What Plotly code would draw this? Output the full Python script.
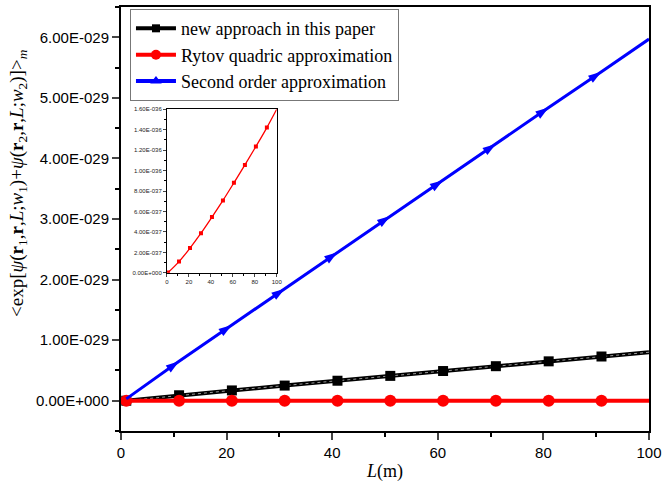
import plotly.graph_objects as go

# ---- data ----
L_pts = [1, 11, 21, 31, 41, 51, 61, 71, 81, 91]
L_end = 100
new_approach = [0.00e-29, 0.09e-29, 0.17e-29, 0.25e-29, 0.33e-29, 0.41e-29, 0.49e-29, 0.57e-29, 0.65e-29, 0.73e-29]
new_approach_end = 0.80e-29
rytov = [0, 0, 0, 0, 0, 0, 0, 0, 0, 0]
rytov_end = 0
second_order = [0.03e-29, 0.65e-29, 1.25e-29, 1.85e-29, 2.45e-29, 3.05e-29, 3.64e-29, 4.24e-29, 4.84e-29, 5.43e-29]
second_order_end = 5.97e-29

inset_rytov = [0.03e-37, 1.1e-37, 2.42e-37, 3.88e-37, 5.45e-37, 7.08e-37, 8.8e-37, 10.55e-37, 12.35e-37, 14.2e-37]
inset_rytov_end = 16.0e-37

y_tickvals = [0, 1e-29, 2e-29, 3e-29, 4e-29, 5e-29, 6e-29]
y_ticktext = ["0.00E+000", "1.00E-029", "2.00E-029", "3.00E-029", "4.00E-029", "5.00E-029", "6.00E-029"]
inset_tickvals = [0, 2e-37, 4e-37, 6e-37, 8e-37, 10e-37, 12e-37, 14e-37, 16e-37]
inset_ticktext = ["0.00E+000", "2.00E-037", "4.00E-037", "6.00E-037", "8.00E-037",
                  "1.00E-036", "1.20E-036", "1.40E-036", "1.60E-036"]

series_names = ["new approach in this paper", "Rytov quadric approximation", "Second order approximation"]

L_line = L_pts + [L_end]

fig = go.Figure()

# black: new approach
fig.add_trace(go.Scatter(x=L_line, y=new_approach + [new_approach_end], mode="lines",
                         line=dict(color="black", width=4), showlegend=False, hoverinfo="skip"))
fig.add_trace(go.Scatter(x=L_line, y=new_approach + [new_approach_end], mode="lines",
                         line=dict(color="#9a9a9a", width=1, dash="dot"), showlegend=False, hoverinfo="skip"))
fig.add_trace(go.Scatter(x=L_pts, y=new_approach, mode="markers",
                         marker=dict(symbol="square", size=10, color="black"), showlegend=False))
# red: Rytov
fig.add_trace(go.Scatter(x=L_line, y=rytov + [rytov_end], mode="lines",
                         line=dict(color="#ff0000", width=4), showlegend=False))
fig.add_trace(go.Scatter(x=L_pts, y=rytov, mode="markers",
                         marker=dict(symbol="circle", size=12, color="#ff0000"), showlegend=False))
# blue: second order
fig.add_trace(go.Scatter(x=L_line, y=second_order + [second_order_end], mode="lines",
                         line=dict(color="#0000ff", width=3), showlegend=False))
fig.add_trace(go.Scatter(x=L_pts, y=second_order, mode="markers",
                         marker=dict(symbol="arrow", size=14, color="#0000ff", angleref="previous", angle=0),
                         showlegend=False))

# legend entries
fig.add_trace(go.Scatter(x=[None], y=[None], mode="lines+markers", name=series_names[0],
                         line=dict(color="black", width=4), marker=dict(symbol="square", size=8, color="black")))
fig.add_trace(go.Scatter(x=[None], y=[None], mode="lines+markers", name=series_names[1],
                         line=dict(color="#ff0000", width=4), marker=dict(symbol="circle", size=10, color="#ff0000")))
fig.add_trace(go.Scatter(x=[None], y=[None], mode="lines+markers", name=series_names[2],
                         line=dict(color="#0000ff", width=4), marker=dict(symbol="triangle-up", size=10, color="#0000ff")))

# inset
fig.add_trace(go.Scatter(x=L_line, y=inset_rytov + [inset_rytov_end], mode="lines",
                         line=dict(color="#ff0000", width=1.3, shape="spline"),
                         xaxis="x2", yaxis="y2", showlegend=False))
fig.add_trace(go.Scatter(x=L_pts, y=inset_rytov, mode="markers",
                         marker=dict(symbol="square", size=4, color="#ff0000"),
                         xaxis="x2", yaxis="y2", showlegend=False))

axis_font = dict(family="Liberation Sans, Arial", size=15, color="black")
fig.update_layout(
    width=662, height=485,
    margin=dict(l=121, r=13, t=7, b=54, autoexpand=False),
    paper_bgcolor="white", plot_bgcolor="white",
    showlegend=True,
    legend=dict(x=0.017, y=0.995, xanchor="left", yanchor="top",
                bgcolor="white", bordercolor="#777777", borderwidth=1,
                font=dict(family="Liberation Serif, Times New Roman", size=18, color="black"),
                itemwidth=40, tracegroupgap=0),
    xaxis=dict(range=[0, 100], tickvals=[0, 20, 40, 60, 80, 100], ticks="outside", ticklen=7, tickwidth=2,
               automargin=False,
               minor=dict(tickmode="linear", tick0=0, dtick=10, ticks="outside", ticklen=4, tickwidth=2, tickcolor="black"),
               showline=True, linewidth=2, linecolor="black", mirror=True, showgrid=False, zeroline=False,
               tickfont=axis_font,
               title=dict(text="<i>L</i>(m)", font=dict(family="Liberation Serif, Times New Roman", size=18, color="black"),
                          standoff=4)),
    yaxis=dict(range=[-0.5e-29, 6.5e-29], tickmode="array", tickvals=y_tickvals, ticktext=y_ticktext,
               ticks="outside", ticklen=7, tickwidth=2, automargin=False,
               minor=dict(tickmode="linear", tick0=0.5e-29, dtick=1e-29, ticks="outside", ticklen=4, tickwidth=2, tickcolor="black"),
               showline=True, linewidth=2, linecolor="black", mirror=True, showgrid=False, zeroline=False,
               tickfont=axis_font),
    xaxis2=dict(domain=[0.087, 0.295], anchor="y2", range=[0, 100], tickvals=[0, 20, 40, 60, 80, 100],
                ticks="outside", ticklen=3, tickwidth=1, ticklabelstandoff=0,
                minor=dict(tickmode="linear", tick0=0, dtick=10, ticks="outside", ticklen=2, tickwidth=1, tickcolor="black"),
                showline=True, linewidth=1, linecolor="black", mirror=True, showgrid=False, zeroline=False,
                tickfont=dict(family="Liberation Sans, Arial", size=6, color="#222222")),
    yaxis2=dict(domain=[0.373, 0.759], anchor="x2", range=[0, 1.6e-36], tickmode="array",
                tickvals=inset_tickvals, ticktext=inset_ticktext,
                ticks="outside", ticklen=3, tickwidth=1,
                minor=dict(tickmode="linear", tick0=1e-37, dtick=2e-37, ticks="outside", ticklen=2, tickwidth=1, tickcolor="black"),
                showline=True, linewidth=1, linecolor="black", mirror=True, showgrid=False, zeroline=False,
                tickfont=dict(family="Liberation Sans, Arial", size=6, color="#222222")),
    shapes=[dict(type="rect", xref="x2 domain", yref="y2 domain", x0=0, x1=1, y0=0, y1=1,
                 fillcolor="white", line=dict(width=0), layer="below")],
)

fig.add_annotation(
    text="&lt;exp[<i>ψ</i>(<b>r</b><sub>1</sub>,<b>r</b>,<i>L</i>;<i>w</i><sub>1</sub>)+<i>ψ</i>(<b>r</b><sub>2</sub>,<b>r</b>,<i>L</i>;<i>w</i><sub>2</sub>)]&gt;<sub><i>m</i></sub>",
    xref="paper", yref="paper", x=-0.195, y=0.585, xanchor="center", yanchor="middle",
    textangle=-90, showarrow=False,
    font=dict(family="Liberation Serif, Times New Roman", size=19, color="black"))

fig.write_html("out.html")
